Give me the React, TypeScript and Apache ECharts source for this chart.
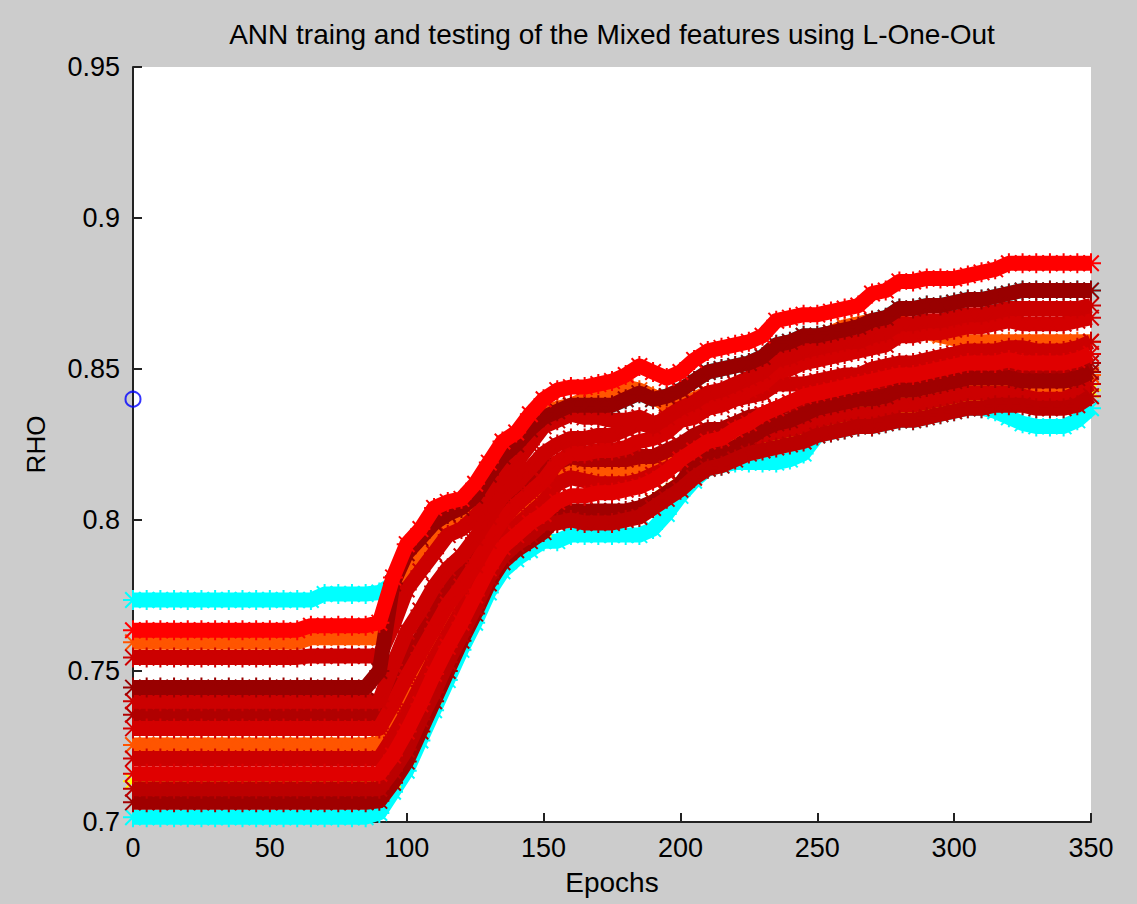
import React, { useEffect, useRef } from "react";
import * as echarts from "echarts";

const titleText = "ANN traing and testing of the Mixed features using L-One-Out";
const xName = "Epochs";
const yName = "RHO";

const epochs = [0, 5, 10, 15, 20, 25, 30, 35, 40, 45, 50, 55, 60, 65, 70, 75, 80, 85, 90, 95, 100, 105, 110, 115, 120, 125, 130, 135, 140, 145, 150, 155, 160, 165, 170, 175, 180, 185, 190, 195, 200, 205, 210, 215, 220, 225, 230, 235, 240, 245, 250, 255, 260, 265, 270, 275, 280, 285, 290, 295, 300, 305, 310, 315, 320, 325, 330, 335, 340, 345, 350];

const cyanA = [0.7735, 0.7735, 0.7735, 0.7735, 0.7735, 0.7735, 0.7735, 0.7735, 0.7735, 0.7735, 0.7735, 0.7735, 0.7735, 0.7735, 0.7755, 0.7755, 0.7755, 0.7755,
  0.776, 0.779, 0.789, 0.794, 0.799, 0.802, 0.804, 0.808, 0.815, 0.821, 0.825, 0.830, 0.834,
  0.836, 0.838, 0.838, 0.838, 0.838, 0.840, 0.842, 0.840, 0.841, 0.843,
  0.846, 0.849, 0.850, 0.851, 0.852, 0.854, 0.858, 0.859, 0.861, 0.861,
  0.862, 0.863, 0.864, 0.866, 0.867, 0.870, 0.870, 0.871, 0.871, 0.872,
  0.873, 0.873, 0.874, 0.875, 0.876, 0.876, 0.876, 0.876, 0.876, 0.876];

const cyanB = [0.7016, 0.7016, 0.7016, 0.7016, 0.7016, 0.7016, 0.7016, 0.7016, 0.7016, 0.7016, 0.7016, 0.7016, 0.7016, 0.7016, 0.7016, 0.7016, 0.7016, 0.7016,
  0.703, 0.710, 0.717, 0.727, 0.737, 0.747, 0.757, 0.766, 0.776, 0.783, 0.787, 0.790, 0.793,
  0.793, 0.795, 0.795, 0.795, 0.795, 0.795, 0.795, 0.797, 0.802, 0.808,
  0.813, 0.817, 0.818, 0.819, 0.819, 0.819, 0.819, 0.820, 0.822, 0.828,
  0.829, 0.830, 0.831, 0.831, 0.832, 0.833, 0.833, 0.834, 0.835, 0.836,
  0.837, 0.837, 0.836, 0.834, 0.832, 0.831, 0.831, 0.831, 0.833, 0.837];

const yellowS = [0.7135, 0.7135, 0.7135, 0.7135, 0.7135, 0.7135, 0.7135, 0.7135, 0.7135, 0.7135, 0.7135, 0.7135, 0.7135, 0.7135, 0.7135, 0.7135, 0.7135, 0.7135,
  0.7135, 0.714, 0.722, 0.732, 0.742, 0.753, 0.763, 0.773, 0.782, 0.788, 0.792, 0.795, 0.797,
  0.801, 0.802, 0.801, 0.801, 0.801, 0.802, 0.803, 0.806, 0.809, 0.812,
  0.816, 0.819, 0.820, 0.822, 0.824, 0.825, 0.826, 0.827, 0.828, 0.830,
  0.831, 0.832, 0.833, 0.833, 0.834, 0.835, 0.835, 0.836, 0.837, 0.838,
  0.839, 0.839, 0.840, 0.840, 0.840, 0.839, 0.839, 0.839, 0.840, 0.843];

const r1 = [0.7635, 0.7635, 0.7635, 0.7635, 0.7635, 0.7635, 0.7635, 0.7635, 0.7635, 0.7635, 0.7635, 0.7635, 0.7635, 0.765, 0.765, 0.765, 0.765, 0.765,
  0.766, 0.781, 0.792, 0.797, 0.804, 0.806, 0.807, 0.812, 0.819, 0.826, 0.829, 0.835, 0.840,
  0.843, 0.844, 0.844, 0.845, 0.846, 0.848, 0.851, 0.849, 0.847, 0.849,
  0.853, 0.856, 0.857, 0.858, 0.859, 0.861, 0.866, 0.867, 0.868, 0.868,
  0.869, 0.870, 0.871, 0.875, 0.876, 0.879, 0.879, 0.880, 0.880, 0.880,
  0.881, 0.882, 0.883, 0.885, 0.885, 0.885, 0.885, 0.885, 0.885, 0.885];

const r2 = [0.7595, 0.7595, 0.7595, 0.7595, 0.7595, 0.7595, 0.7595, 0.7595, 0.7595, 0.7595, 0.7595, 0.7595, 0.7595, 0.761, 0.761, 0.761, 0.761, 0.761,
  0.761, 0.771, 0.783, 0.789, 0.794, 0.800, 0.801, 0.805, 0.810, 0.817, 0.822, 0.828, 0.834,
  0.837, 0.838, 0.840, 0.842, 0.843, 0.844, 0.843, 0.841, 0.838, 0.839,
  0.840, 0.842, 0.842, 0.843, 0.844, 0.849, 0.853, 0.855, 0.857, 0.859,
  0.862, 0.864, 0.865, 0.866, 0.866, 0.866, 0.864, 0.862, 0.861, 0.860,
  0.859, 0.859, 0.859, 0.859, 0.859, 0.859, 0.859, 0.859, 0.859, 0.859];

const r3 = [0.7545, 0.7545, 0.7545, 0.7545, 0.7545, 0.7545, 0.7545, 0.7545, 0.7545, 0.7545, 0.7545, 0.7545, 0.7545, 0.755, 0.755, 0.755, 0.755, 0.755,
  0.755, 0.765, 0.777, 0.783, 0.789, 0.795, 0.797, 0.801, 0.807, 0.814, 0.819, 0.825, 0.831,
  0.833, 0.835, 0.834, 0.834, 0.833, 0.833, 0.834, 0.832, 0.833, 0.835,
  0.837, 0.839, 0.839, 0.840, 0.841, 0.842, 0.845, 0.845, 0.845, 0.846,
  0.847, 0.848, 0.848, 0.850, 0.851, 0.852, 0.852, 0.853, 0.854, 0.855,
  0.856, 0.856, 0.856, 0.857, 0.857, 0.856, 0.856, 0.856, 0.857, 0.859];

const r4 = [0.7445, 0.7445, 0.7445, 0.7445, 0.7445, 0.7445, 0.7445, 0.7445, 0.7445, 0.7445, 0.7445, 0.7445, 0.7445, 0.7445, 0.7445, 0.7445, 0.7445, 0.7445,
  0.750, 0.779, 0.789, 0.794, 0.799, 0.802, 0.804, 0.808, 0.815, 0.821, 0.825, 0.830, 0.834,
  0.836, 0.838, 0.838, 0.838, 0.838, 0.840, 0.842, 0.840, 0.841, 0.843,
  0.846, 0.849, 0.850, 0.851, 0.852, 0.854, 0.858, 0.859, 0.861, 0.861,
  0.862, 0.863, 0.864, 0.866, 0.867, 0.870, 0.870, 0.871, 0.871, 0.872,
  0.873, 0.873, 0.874, 0.875, 0.876, 0.876, 0.876, 0.876, 0.876, 0.876];

const r5 = [0.740, 0.740, 0.740, 0.740, 0.740, 0.740, 0.740, 0.740, 0.740, 0.740, 0.740, 0.740, 0.740, 0.740, 0.740, 0.740, 0.740, 0.740,
  0.740, 0.752, 0.763, 0.770, 0.778, 0.784, 0.788, 0.794, 0.801, 0.808, 0.812, 0.817, 0.822,
  0.825, 0.827, 0.827, 0.828, 0.828, 0.830, 0.832, 0.831, 0.834, 0.837,
  0.839, 0.842, 0.843, 0.845, 0.847, 0.849, 0.853, 0.854, 0.856, 0.857,
  0.858, 0.859, 0.859, 0.861, 0.862, 0.865, 0.865, 0.866, 0.866, 0.867,
  0.868, 0.868, 0.869, 0.870, 0.870, 0.870, 0.870, 0.870, 0.870, 0.871];

const r6 = [0.7355, 0.7355, 0.7355, 0.7355, 0.7355, 0.7355, 0.7355, 0.7355, 0.7355, 0.7355, 0.7355, 0.7355, 0.7355, 0.7355, 0.7355, 0.7355, 0.7355, 0.7355,
  0.7355, 0.744, 0.754, 0.761, 0.769, 0.777, 0.782, 0.788, 0.796, 0.803, 0.807, 0.812, 0.817,
  0.819, 0.821, 0.820, 0.820, 0.820, 0.820, 0.821, 0.821, 0.823, 0.825,
  0.828, 0.830, 0.830, 0.832, 0.834, 0.835, 0.837, 0.838, 0.839, 0.840,
  0.841, 0.842, 0.842, 0.843, 0.844, 0.845, 0.845, 0.846, 0.847, 0.848,
  0.849, 0.849, 0.849, 0.850, 0.849, 0.849, 0.849, 0.849, 0.850, 0.852];

const r7 = [0.731, 0.731, 0.731, 0.731, 0.731, 0.731, 0.731, 0.731, 0.731, 0.731, 0.731, 0.731, 0.731, 0.731, 0.731, 0.731, 0.731, 0.731,
  0.731, 0.739, 0.748, 0.756, 0.764, 0.772, 0.778, 0.785, 0.793, 0.800, 0.805, 0.809, 0.813,
  0.819, 0.822, 0.822, 0.823, 0.823, 0.824, 0.826, 0.827, 0.829, 0.833,
  0.834, 0.837, 0.838, 0.840, 0.843, 0.845, 0.849, 0.850, 0.852, 0.853,
  0.854, 0.855, 0.856, 0.857, 0.858, 0.861, 0.861, 0.862, 0.862, 0.863,
  0.864, 0.864, 0.865, 0.866, 0.865, 0.865, 0.865, 0.865, 0.866, 0.867];

const r8 = [0.7255, 0.7255, 0.7255, 0.7255, 0.7255, 0.7255, 0.7255, 0.7255, 0.7255, 0.7255, 0.7255, 0.7255, 0.7255, 0.7255, 0.7255, 0.7255, 0.7255, 0.7255,
  0.726, 0.733, 0.742, 0.750, 0.759, 0.767, 0.774, 0.781, 0.790, 0.797, 0.801, 0.805, 0.809,
  0.815, 0.817, 0.816, 0.816, 0.816, 0.816, 0.817, 0.818, 0.820, 0.822,
  0.822, 0.825, 0.825, 0.827, 0.829, 0.831, 0.832, 0.833, 0.835, 0.836,
  0.837, 0.838, 0.838, 0.839, 0.840, 0.841, 0.841, 0.842, 0.843, 0.844,
  0.845, 0.845, 0.845, 0.845, 0.844, 0.844, 0.844, 0.844, 0.845, 0.848];

const r9 = [0.721, 0.721, 0.721, 0.721, 0.721, 0.721, 0.721, 0.721, 0.721, 0.721, 0.721, 0.721, 0.721, 0.721, 0.721, 0.721, 0.721, 0.721,
  0.721, 0.728, 0.736, 0.745, 0.754, 0.762, 0.770, 0.778, 0.787, 0.794, 0.798, 0.802, 0.806,
  0.812, 0.814, 0.813, 0.812, 0.812, 0.812, 0.813, 0.815, 0.817, 0.819,
  0.819, 0.822, 0.822, 0.824, 0.826, 0.828, 0.829, 0.830, 0.831, 0.833,
  0.834, 0.835, 0.835, 0.835, 0.836, 0.838, 0.838, 0.839, 0.840, 0.841,
  0.842, 0.842, 0.842, 0.842, 0.841, 0.840, 0.840, 0.840, 0.842, 0.845];

const r10 = [0.716, 0.716, 0.716, 0.716, 0.716, 0.716, 0.716, 0.716, 0.716, 0.716, 0.716, 0.716, 0.716, 0.716, 0.716, 0.716, 0.716, 0.716,
  0.716, 0.722, 0.730, 0.739, 0.749, 0.758, 0.766, 0.775, 0.784, 0.791, 0.795, 0.799, 0.802,
  0.806, 0.808, 0.808, 0.809, 0.809, 0.810, 0.811, 0.813, 0.816, 0.820,
  0.823, 0.826, 0.827, 0.830, 0.832, 0.835, 0.837, 0.839, 0.841, 0.842,
  0.843, 0.844, 0.845, 0.846, 0.847, 0.848, 0.848, 0.849, 0.850, 0.851,
  0.852, 0.852, 0.852, 0.853, 0.852, 0.852, 0.852, 0.852, 0.853, 0.855];

const r11 = [0.711, 0.711, 0.711, 0.711, 0.711, 0.711, 0.711, 0.711, 0.711, 0.711, 0.711, 0.711, 0.711, 0.711, 0.711, 0.711, 0.711, 0.711,
  0.711, 0.717, 0.724, 0.734, 0.743, 0.753, 0.762, 0.771, 0.781, 0.788, 0.792, 0.795, 0.799,
  0.799, 0.800, 0.799, 0.799, 0.799, 0.800, 0.801, 0.804, 0.807, 0.810,
  0.814, 0.817, 0.818, 0.820, 0.822, 0.823, 0.824, 0.825, 0.826, 0.828,
  0.829, 0.830, 0.831, 0.831, 0.832, 0.833, 0.833, 0.834, 0.835, 0.836,
  0.837, 0.837, 0.838, 0.838, 0.838, 0.837, 0.837, 0.837, 0.838, 0.841];

const r12 = [0.7065, 0.7065, 0.7065, 0.7065, 0.7065, 0.7065, 0.7065, 0.7065, 0.7065, 0.7065, 0.7065, 0.7065, 0.7065, 0.7065, 0.7065, 0.7065, 0.7065, 0.7065,
  0.707, 0.713, 0.720, 0.730, 0.740, 0.750, 0.760, 0.769, 0.779, 0.786, 0.790, 0.793, 0.796,
  0.801, 0.803, 0.803, 0.803, 0.803, 0.803, 0.804, 0.806, 0.809, 0.812,
  0.818, 0.821, 0.822, 0.824, 0.827, 0.830, 0.832, 0.833, 0.835, 0.837,
  0.838, 0.839, 0.840, 0.840, 0.841, 0.843, 0.843, 0.844, 0.845, 0.846,
  0.847, 0.847, 0.847, 0.847, 0.846, 0.846, 0.846, 0.846, 0.847, 0.849];

const markerEpochs = [0];
const markerValues = [0.84];

// draw order: first drawn lies underneath
const seriesList: { name: string; data: number[]; color: string }[] = [
  { name: "c1", data: cyanA, color: "#00ffff" },
  { name: "c2", data: cyanB, color: "#00ffff" },
  { name: "y1", data: yellowS, color: "#ffff00" },
  { name: "o1", data: r2, color: "#ff5500" },
  { name: "o2", data: r8, color: "#ff5500" },
  { name: "r3", data: r3, color: "#cc0000" },
  { name: "r6", data: r6, color: "#b00000" },
  { name: "r9", data: r9, color: "#cc0000" },
  { name: "r12", data: r12, color: "#a00000" },
  { name: "r11", data: r11, color: "#bb0000" },
  { name: "r10", data: r10, color: "#e00000" },
  { name: "r7", data: r7, color: "#d40000" },
  { name: "r5", data: r5, color: "#cc0000" },
  { name: "r4", data: r4, color: "#990000" },
  { name: "r1", data: r1, color: "#ff0000" },
];

const FONT = "'Liberation Sans', Arial, Helvetica, sans-serif";
const ASTERISK =
  "path://M9 0h2v20h-2z M0 9h20v2h-20z M2.93 1.52l15.55 15.55l-1.41 1.41l-15.55-15.55z M17.07 1.52l1.41 1.41l-15.55 15.55l-1.41-1.41z";

export default function App() {
  const ref = useRef<HTMLDivElement>(null);
  useEffect(() => {
    if (!ref.current) return;
    const chart = echarts.init(ref.current, undefined, { renderer: "svg" });
    const lineSeries = seriesList.map((s, k) => ({
      name: s.name,
      type: "line",
      z: 3 + k,
      data: epochs
        .map((e, i) => [e, s.data[i]])
        .filter((p) => p[1] !== undefined),
      symbol: ASTERISK,
      symbolSize: 20,
      symbolKeepAspect: true,
      showSymbol: true,
      showAllSymbol: true,
      clip: false,
      silent: true,
      lineStyle: { color: s.color, width: 15, join: "round", cap: "butt" },
      itemStyle: { color: s.color, borderWidth: 0 },
      emphasis: { disabled: true },
    }));
    chart.setOption({
      animation: false,
      backgroundColor: "#cccccc",
      title: {
        text: titleText,
        left: 607,
        top: 15,
        textAlign: "center",
        textStyle: { fontSize: 28, fontWeight: "normal", color: "#000", fontFamily: FONT },
      },
      grid: {
        left: 133,
        right: 46,
        top: 67,
        bottom: 82,
        show: true,
        backgroundColor: "#ffffff",
        borderWidth: 0,
      },
      xAxis: {
        type: "value",
        min: 0,
        max: 350,
        interval: 50,
        name: xName,
        nameLocation: "middle",
        nameGap: 46,
        nameTextStyle: { fontSize: 28, color: "#000", fontFamily: FONT },
        axisLine: { onZero: false, lineStyle: { color: "#222", width: 2 } },
        axisTick: { inside: true, length: 9, lineStyle: { color: "#222", width: 2 } },
        axisLabel: { fontSize: 27, color: "#000", margin: 12, fontFamily: FONT },
        splitLine: { show: false },
      },
      yAxis: {
        type: "value",
        min: 0.7,
        max: 0.95,
        interval: 0.05,
        name: yName,
        nameLocation: "middle",
        nameGap: 84,
        nameTextStyle: { fontSize: 26, color: "#000", fontFamily: FONT },
        axisLine: { onZero: false, lineStyle: { color: "#222", width: 2 } },
        axisTick: { inside: true, length: 9, lineStyle: { color: "#222", width: 2 } },
        axisLabel: { fontSize: 27, color: "#000", margin: 13, fontFamily: FONT },
        splitLine: { show: false },
      },
      series: [
        ...lineSeries,
        {
          name: "o",
          type: "scatter",
          data: markerEpochs.map((e, i) => [e, markerValues[i]]),
          symbol: "circle",
          symbolSize: 15,
          clip: false,
          silent: true,
          itemStyle: { color: "rgba(0,0,0,0)", borderColor: "#0000ff", borderWidth: 2 },
          z: 40,
        },
      ],
    });
    return () => chart.dispose();
  }, []);
  return (
    <div
      ref={ref}
      style={{ position: "fixed", left: 0, top: 0, width: 1137, height: 904, background: "#cccccc" }}
    />
  );
}
